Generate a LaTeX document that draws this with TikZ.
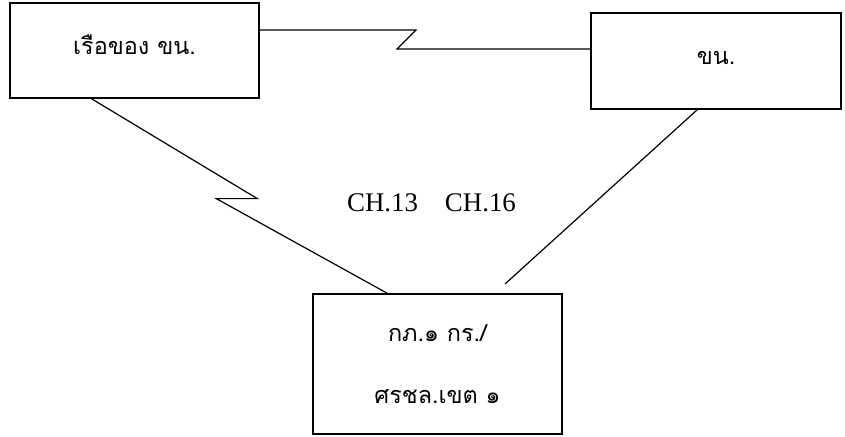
\documentclass[tikz,border=0pt]{standalone}
\usepackage{fontspec}
\setmainfont{Liberation Serif}
\newfontfamily\thai[Script=Thai]{Loma}
\usetikzlibrary{positioning}

\tikzset{
  box/.style={draw, line width=1.3bp, inner sep=0pt, font=\thai\fontsize{23.5}{27}\selectfont},
  link/.style={line width=1.2bp},
}

\begin{document}
\begin{tikzpicture}[x=1bp, y=-1bp]
    \useasboundingbox (0,0) rectangle (845,437);

    % Boxes
    \node[box, minimum width=249bp, minimum height=95bp] (boat) at (134.5,50.5) {\raisebox{11bp}{เรือของ ขน.}};
    \node[box, minimum width=250bp, minimum height=96bp] (boss) at (716,61) {\raisebox{7bp}{ขน.}};
    \node[box, minimum width=249bp, minimum height=140bp, align=center] (base) at (437.5,364)
        {กภ.๑ กร./\\[35bp]ศรชล.เขต ๑};

    % Channels
    \node[font=\fontsize{27}{30}\selectfont] (chan) at (431.5,203) {CH.13\quad CH.16};

    % Radio links
    \draw[link] (boat.east |- 0,30) -- (416,30) -- (397,49) -- (boss.west |- 0,49);
    \draw[link] (boat.south west) ++(82,0) -- ++(166,100) -- ++(-41,0) -- ([xshift=75bp]base.north west);
    \coordinate (tip) at (505,284);
    \draw[link] ([xshift=107bp]boss.south west) -- (tip);
\end{tikzpicture}
\end{document}
